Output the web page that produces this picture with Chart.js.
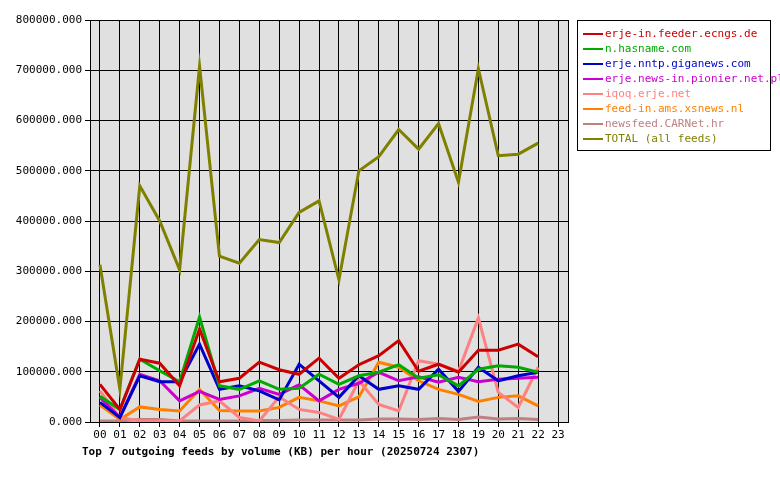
<!DOCTYPE html>
<html>
<head>
<meta charset="utf-8">
<script src="https://cdn.jsdelivr.net/npm/chart.js@4"></script>
<style>
  body { margin: 0; background: #fff; font-family: "DejaVu Sans Mono", monospace; }
  #wrap { position: relative; width: 780px; height: 480px; }
  #legend { position: absolute; left: 577px; top: 20px; width: 194px; border: 1px solid #000; background: #fff; padding: 5px 0 4px 5px; font-size: 11px; box-sizing: border-box; }
  #legend div { height: 15px; line-height: 15px; white-space: nowrap; }
  #legend span.sw { display: inline-block; width: 20px; height: 2px; vertical-align: middle; margin-right: 2px; }
  #title { position: absolute; left: 82px; top: 445px; font-size: 11px; font-weight: bold; }
</style>
</head>
<body>
<div id="wrap">
  <canvas id="c" width="780" height="480"></canvas>
  <div id="legend"></div>
  <div id="title">Top 7 outgoing feeds by volume (KB) per hour (20250724 2307)</div>
</div>
<script>
'use strict';

// ---- Data (KB) ----

const hours = ['00','01','02','03','04','05','06','07','08','09','10','11','12','13','14','15','16','17','18','19','20','21','22','23'];

const feedNames = [
  'erje-in.feeder.ecngs.de',
  'n.hasname.com',
  'erje.nntp.giganews.com',
  'erje.news-in.pionier.net.pl',
  'iqoq.erje.net',
  'feed-in.ams.xsnews.nl',
  'newsfeed.CARNet.hr',
  'TOTAL (all feeds)',
];
const feedColors = ['#cc0000', '#00aa00', '#0000cc', '#cc00cc', '#ff8080', '#ff8000', '#c08080', '#808000'];

const ecngs    = [75,25,125,117,72,185,80,87,119,104,95,127,87,114,132,162,101,115,99,143,143,155,130];
const hasname  = [51,25,125,102,80,209,72,65,82,65,67,95,75,92,99,114,87,94,72,105,112,109,99];
const giganews = [39,9,92,80,80,155,65,72,62,44,115,82,49,92,65,72,65,105,61,109,82,92,99];
const pionier  = [49,9,95,82,42,61,45,52,67,55,74,42,65,77,99,82,90,79,89,80,85,87,89];
const iqoq     = [62,9,2,2,2,34,42,9,2,50,25,19,5,82,35,22,122,115,101,207,59,29,109];
const xsnews   = [34,5,30,25,22,65,23,22,22,29,49,42,32,50,119,109,82,65,55,41,49,52,32];
const carnet   = [2,2,5,5,2,2,2,2,3,3,4,4,4,4,6,6,5,7,5,10,6,7,5];
const total    = [313,65,470,400,303,708,330,316,363,357,417,440,283,500,528,582,543,594,477,703,530,533,555];

const seriesValues = [ecngs, hasname, giganews, pionier, iqoq, xsnews, carnet, total];

// ---- Legend ----

const legend = document.getElementById('legend');
feedNames.forEach((name, i) => {
  const row = document.createElement('div');
  row.style.color = feedColors[i];
  row.innerHTML = `<span class="sw" style="background:${feedColors[i]}"></span>${name}`;
  legend.appendChild(row);
});

// ---- Chart ----

const plotBg = {
  id: 'plotBg',
  beforeDraw(chart) {
    const { ctx, chartArea: a } = chart;
    ctx.save();
    ctx.fillStyle = '#e0e0e0';
    ctx.fillRect(a.left, a.top, a.right - a.left, a.bottom - a.top);
    ctx.restore();
  },
  afterDraw(chart) {
    const { ctx, chartArea: a } = chart;
    ctx.save();
    ctx.strokeStyle = '#000';
    ctx.lineWidth = 1;
    ctx.strokeRect(a.left + 0.5, a.top + 0.5, a.right - a.left, a.bottom - a.top);
    ctx.restore();
  },
};

Chart.defaults.font.family = '"DejaVu Sans Mono", monospace';
Chart.defaults.font.size = 11;
Chart.defaults.color = '#000';

new Chart(document.getElementById('c'), {
  type: 'line',
  data: {
    labels: hours,
    datasets: seriesValues.map((vals, i) => ({
      label: feedNames[i],
      data: vals.map(v => v * 1000),
      borderColor: feedColors[i],
      borderWidth: 3,
      pointRadius: 0,
      tension: 0,
    })),
  },
  options: {
    responsive: false,
    animation: false,
    layout: { padding: { top: 20, right: 212, bottom: 33, left: 0 } },
    plugins: { legend: { display: false }, tooltip: { enabled: false } },
    scales: {
      x: {
        offset: true,
        grid: { offset: false, color: '#000', tickLength: 5 },
        ticks: { maxRotation: 0, autoSkip: false, padding: 2 },
        afterFit: s => { s.height = 25; },
      },
      y: {
        min: 0, max: 800000,
        grid: { color: '#000', tickLength: 5 },
        ticks: { stepSize: 100000, callback: v => v.toFixed(3), padding: 3 },
        afterFit: s => { s.width = 90; },
      },
    },
  },
  plugins: [plotBg],
});
</script>
</body>
</html>
